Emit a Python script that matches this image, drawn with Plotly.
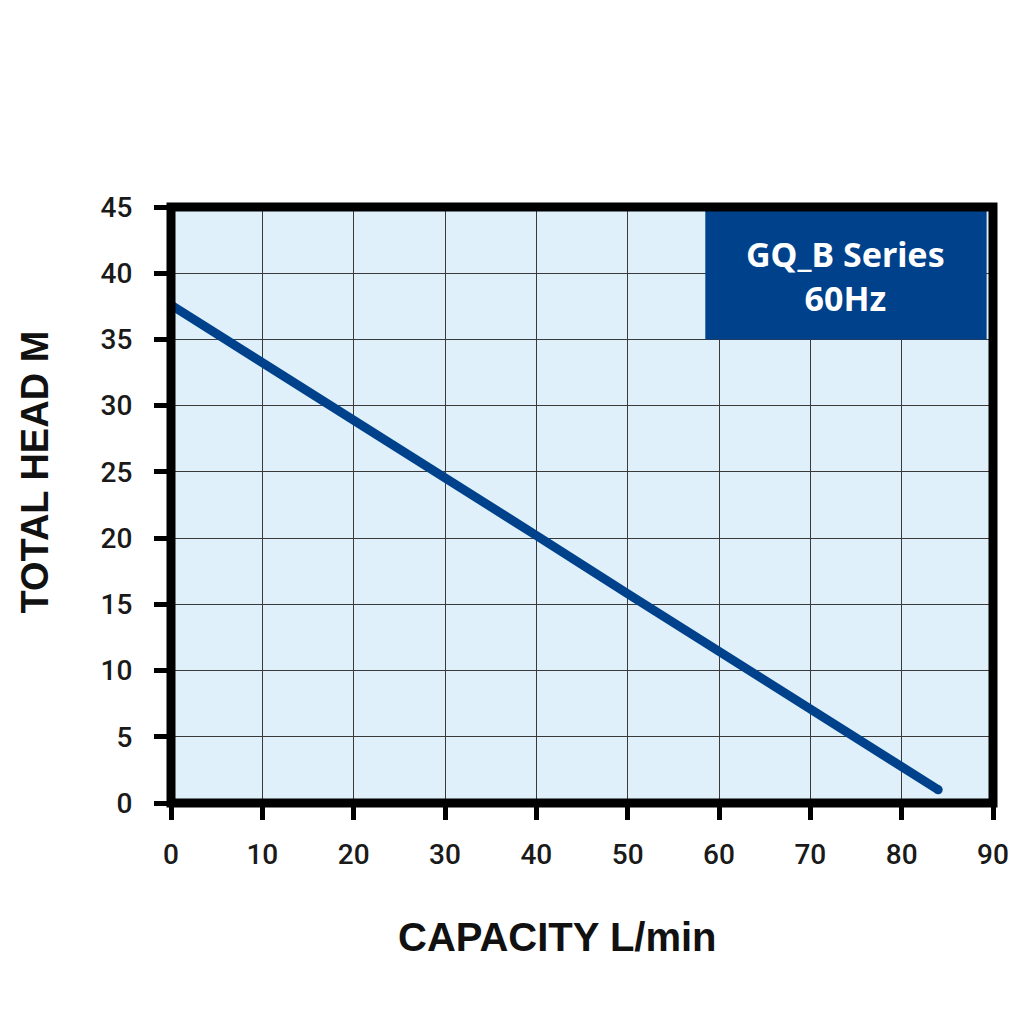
import plotly.graph_objects as go

capacity = [0, 10, 20, 30, 40, 50, 60, 70, 80, 84]
head = [37.6, 33.3, 29.0, 24.6, 20.2, 15.8, 11.4, 7.0, 2.8, 1.0]
x_ticks = [0, 10, 20, 30, 40, 50, 60, 70, 80, 90]
y_ticks = [0, 5, 10, 15, 20, 25, 30, 35, 40, 45]
label_text = "GQ_B Series<br>60Hz"
x_title = "CAPACITY L/min"
y_title = "TOTAL HEAD M"

blue = "#00418c"

fig = go.Figure()
fig.add_trace(go.Scatter(
    x=capacity, y=head, mode="lines",
    line=dict(color=blue, width=9), cliponaxis=True, showlegend=False,
))
fig.add_trace(go.Scatter(
    x=capacity[-1:], y=head[-1:], mode="markers",
    marker=dict(color=blue, size=9, line=dict(width=0)), showlegend=False,
))

fig.update_layout(
    width=1024, height=1024,
    margin=dict(l=171, r=31, t=207, b=221),
    paper_bgcolor="white", plot_bgcolor="#dff0fa",
    font=dict(family="Roboto", color="#1a1a1a"),
    xaxis=dict(
        range=[0, 90], tickvals=x_ticks, ticktext=[str(v) for v in x_ticks],
        showgrid=True, gridcolor="#3a3a3a", gridwidth=1, zeroline=False,
        ticks="outside", ticklen=16, tickwidth=5, tickcolor="black",
        tickfont=dict(size=28, family="Roboto", color="#1a1a1a", weight=500),
        ticklabelstandoff=10, showline=False, fixedrange=True,
    ),
    yaxis=dict(
        range=[0, 45], tickvals=y_ticks, ticktext=[str(v) for v in y_ticks],
        showgrid=True, gridcolor="#3a3a3a", gridwidth=1, zeroline=False,
        ticks="outside", ticklen=16, tickwidth=5, tickcolor="black",
        tickfont=dict(size=28, family="Roboto", color="#1a1a1a", weight=500),
        ticklabelstandoff=16, showline=False, fixedrange=True,
    ),
    shapes=[
        dict(type="rect", xref="x", yref="y", x0=58.5, x1=89.3, y0=35.0, y1=44.7,
             fillcolor=blue, line=dict(width=0), layer="above"),
        dict(type="rect", xref="paper", yref="paper", x0=0, x1=1, y0=0, y1=1,
             line=dict(color="black", width=9), layer="above"),
    ],
    annotations=[
        dict(x=73.9, y=39.8, xref="x", yref="y", text="<b>" + label_text + "</b>",
             showarrow=False, align="center",
             font=dict(family="Noto Sans", size=34, color="white")),
        dict(x=0.47, y=-0.225, xref="paper", yref="paper", text="<b>" + x_title + "</b>",
             showarrow=False, xanchor="center", yanchor="middle",
             font=dict(family="Liberation Sans", size=40, color="#111111")),
        dict(x=-0.165, y=0.555, xref="paper", yref="paper", text="<b>" + y_title + "</b>",
             showarrow=False, textangle=-90, xanchor="center", yanchor="middle",
             font=dict(family="Liberation Sans", size=38, color="#111111")),
    ],
)

fig.write_html("out.html")
